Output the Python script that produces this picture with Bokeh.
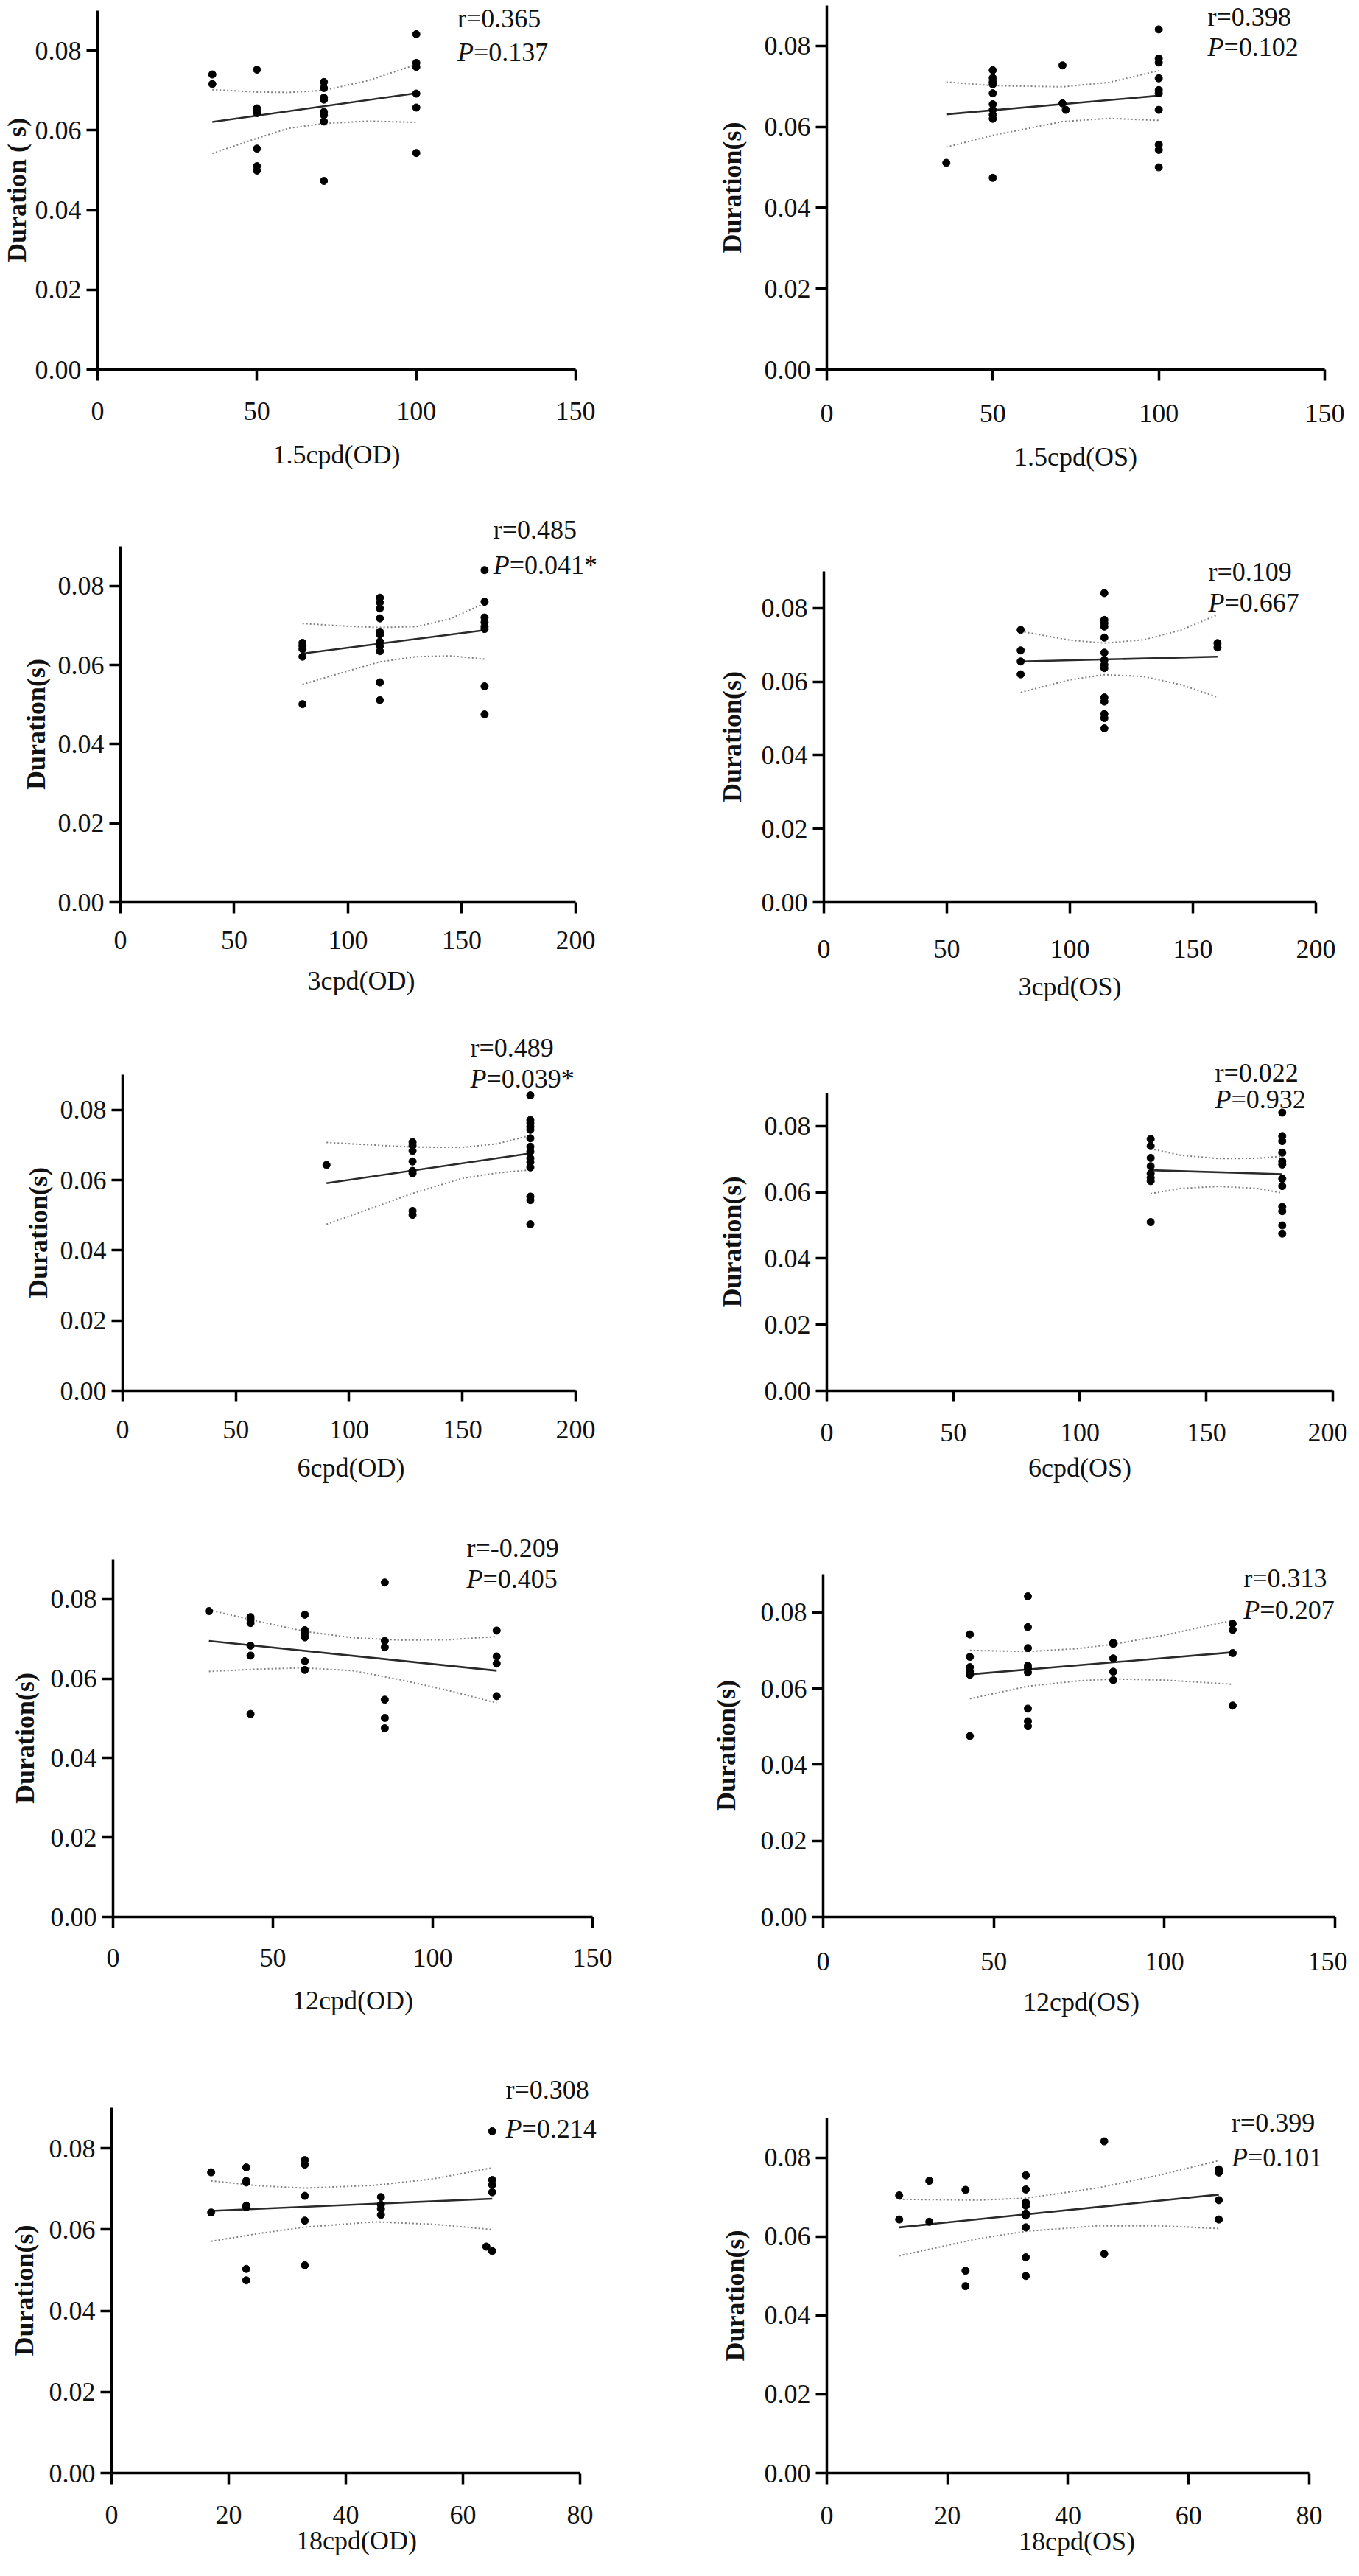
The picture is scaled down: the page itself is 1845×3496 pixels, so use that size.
import math
from bokeh.plotting import figure
from bokeh.layouts import column, row
from bokeh.models import Range1d, FixedTicker, NumeralTickFormatter, Label, Title
from bokeh.embed import file_html
from bokeh.resources import INLINE

# ---------------- data ----------------
# 1.5cpd (OD)
x_15od = [36, 36, 50, 50, 50, 50, 50, 50, 50, 71, 71, 71, 71, 71, 71, 71, 71, 100, 100, 100, 100, 100, 100]
y_15od = [0.0740, 0.0716, 0.0752, 0.0655, 0.0647, 0.0643, 0.0554, 0.0510, 0.0499,
          0.0721, 0.0706, 0.0682, 0.0677, 0.0646, 0.0638, 0.0622, 0.0473,
          0.0841, 0.0769, 0.0759, 0.0692, 0.0657, 0.0543]
fitx_15od = [36, 100]
fity_15od = [0.0621, 0.0693]
cix_15od = [36, 50, 60, 71, 85, 100]
cihi_15od = [0.0702, 0.0696, 0.0695, 0.0700, 0.0725, 0.0765]
cilo_15od = [0.0542, 0.0580, 0.0605, 0.0617, 0.0623, 0.0620]

# 1.5cpd (OS)
x_15os = [36, 50, 50, 50, 50, 50, 50, 50, 50, 50, 50, 71, 71, 72, 100, 100, 100, 100, 100, 100, 100, 100, 100, 100]
y_15os = [0.0511, 0.0740, 0.0721, 0.0711, 0.0705, 0.0683, 0.0656, 0.0642, 0.0630, 0.0620, 0.0474,
          0.0752, 0.0658, 0.0642,
          0.0841, 0.0769, 0.0759, 0.0720, 0.0691, 0.0683, 0.0642, 0.0556, 0.0543, 0.0500]
fitx_15os = [36, 100]
fity_15os = [0.0631, 0.0677]
cix_15os = [36, 50, 71, 85, 100]
cihi_15os = [0.0711, 0.0702, 0.0699, 0.0710, 0.0739]
cilo_15os = [0.0550, 0.0579, 0.0613, 0.0621, 0.0616]

# 3cpd (OD)
x_3od = [80] * 5 + [114] * 11 + [160] * 8
y_3od = [0.0656, 0.0648, 0.0640, 0.0621, 0.0501,
         0.0770, 0.0758, 0.0743, 0.0718, 0.0684, 0.0677, 0.0659, 0.0648, 0.0635, 0.0556, 0.0511,
         0.0840, 0.0760, 0.0720, 0.0708, 0.0697, 0.0691, 0.0546, 0.0475]
fitx_3od = [80, 160]
fity_3od = [0.0629, 0.0688]
cix_3od = [80, 100, 114, 130, 145, 160]
cihi_3od = [0.0705, 0.0698, 0.0695, 0.0697, 0.0717, 0.0756]
cilo_3od = [0.0551, 0.0585, 0.0608, 0.0621, 0.0623, 0.0615]

# 3cpd (OS)
x_3os = [80] * 4 + [114] * 14 + [160] * 2
y_3os = [0.0741, 0.0685, 0.0655, 0.0620,
         0.0841, 0.0768, 0.0759, 0.0750, 0.0720, 0.0679, 0.0659, 0.0646, 0.0637, 0.0557, 0.0546, 0.0512, 0.0501, 0.0473,
         0.0705, 0.0693]
fitx_3os = [80, 160]
fity_3os = [0.0655, 0.0668]
cix_3os = [80, 100, 114, 130, 145, 160]
cihi_3os = [0.0737, 0.0713, 0.0705, 0.0714, 0.0740, 0.0782]
cilo_3os = [0.0571, 0.0605, 0.0619, 0.0614, 0.0592, 0.0558]

# 6cpd (OD)
x_6od = [90] + [128] * 8 + [180] * 14
y_6od = [0.0643,
         0.0708, 0.0698, 0.0683, 0.0653, 0.0626, 0.0619, 0.0512, 0.0501,
         0.0841, 0.0771, 0.0762, 0.0752, 0.0743, 0.0719, 0.0695, 0.0681, 0.0662, 0.0651, 0.0636, 0.0553, 0.0543, 0.0474]
fitx_6od = [90, 180]
fity_6od = [0.0591, 0.0676]
cix_6od = [90, 110, 128, 150, 165, 180]
cihi_6od = [0.0707, 0.0700, 0.0694, 0.0693, 0.0703, 0.0727]
cilo_6od = [0.0474, 0.0520, 0.0562, 0.0605, 0.0620, 0.0629]

# 6cpd (OS)
x_6os = [128] * 8 + [180] * 12
y_6os = [0.0761, 0.0740, 0.0704, 0.0679, 0.0657, 0.0644, 0.0634, 0.0510,
         0.0841, 0.0770, 0.0755, 0.0720, 0.0694, 0.0684, 0.0641, 0.0619, 0.0556, 0.0543, 0.0500, 0.0475]
fitx_6os = [128, 180]
fity_6os = [0.0667, 0.0655]
cix_6os = [128, 140, 155, 170, 180]
cihi_6os = [0.0732, 0.0712, 0.0702, 0.0703, 0.0709]
cilo_6os = [0.0596, 0.0612, 0.0618, 0.0612, 0.0598]

# 12cpd (OD)
x_12od = [30] + [43] * 6 + [60] * 6 + [85] * 6 + [120] * 4
y_12od = [0.0770,
          0.0755, 0.0748, 0.0740, 0.0683, 0.0658, 0.0511,
          0.0761, 0.0722, 0.0713, 0.0704, 0.0644, 0.0622,
          0.0842, 0.0695, 0.0679, 0.0547, 0.0501, 0.0475,
          0.0721, 0.0656, 0.0638, 0.0556]
fitx_12od = [30, 120]
fity_12od = [0.0695, 0.0620]
cix_12od = [30, 45, 60, 75, 90, 105, 120]
cihi_12od = [0.0773, 0.0745, 0.0719, 0.0703, 0.0697, 0.0698, 0.0706]
cilo_12od = [0.0618, 0.0624, 0.0627, 0.0620, 0.0597, 0.0570, 0.0539]

# 12cpd (OS)
x_12os = [43] * 6 + [60] * 9 + [85] * 5 + [120] * 4
y_12os = [0.0742, 0.0683, 0.0656, 0.0645, 0.0636, 0.0475,
          0.0842, 0.0761, 0.0706, 0.0660, 0.0653, 0.0642, 0.0547, 0.0514, 0.0501,
          0.0720, 0.0717, 0.0679, 0.0644, 0.0622,
          0.0770, 0.0754, 0.0693, 0.0555]
fitx_12os = [43, 120]
fity_12os = [0.0637, 0.0695]
cix_12os = [43, 60, 75, 85, 100, 120]
cihi_12os = [0.0700, 0.0697, 0.0705, 0.0716, 0.0740, 0.0779]
cilo_12os = [0.0573, 0.0606, 0.0620, 0.0625, 0.0622, 0.0611]

# 18cpd (OD)
x_18od = [17] * 2 + [23] * 7 + [33] * 5 + [46] * 4 + [64] + [65] * 5
y_18od = [0.0741, 0.0642,
          0.0753, 0.0720, 0.0716, 0.0659, 0.0655, 0.0503, 0.0475,
          0.0771, 0.0760, 0.0683, 0.0622, 0.0512,
          0.0680, 0.0661, 0.0651, 0.0636,
          0.0558,
          0.0842, 0.0722, 0.0710, 0.0692, 0.0547]
fitx_18od = [17, 65]
fity_18od = [0.0646, 0.0676]
cix_18od = [17, 25, 33, 45, 55, 65]
cihi_18od = [0.0720, 0.0708, 0.0702, 0.0709, 0.0725, 0.0752]
cilo_18od = [0.0571, 0.0590, 0.0606, 0.0619, 0.0613, 0.0600]

# 18cpd (OS)
x_18os = [12] * 2 + [17] * 2 + [23] * 3 + [33] * 9 + [46] * 2 + [65] * 4
y_18os = [0.0704, 0.0643,
          0.0741, 0.0637,
          0.0718, 0.0513, 0.0474,
          0.0755, 0.0719, 0.0686, 0.0678, 0.0658, 0.0653, 0.0623, 0.0547, 0.0500,
          0.0841, 0.0556,
          0.0770, 0.0762, 0.0692, 0.0643]
fitx_18os = [12, 65]
fity_18os = [0.0623, 0.0706]
cix_18os = [12, 25, 33, 45, 55, 65]
cihi_18os = [0.0694, 0.0692, 0.0697, 0.0723, 0.0755, 0.0792]
cilo_18os = [0.0551, 0.0594, 0.0613, 0.0627, 0.0627, 0.0620]

x_titles = ["1.5cpd(OD)", "1.5cpd(OS)", "3cpd(OD)", "3cpd(OS)", "6cpd(OD)", "6cpd(OS)",
            "12cpd(OD)", "12cpd(OS)", "18cpd(OD)", "18cpd(OS)"]
y_titles = ["Duration ( s)"] + ["Duration(s)"] * 9
r_texts = ["r=0.365", "r=0.398", "r=0.485", "r=0.109", "r=0.489", "r=0.022",
           "r=-0.209", "r=0.313", "r=0.308", "r=0.399"]
p_texts = ["=0.137", "=0.102", "=0.041*", "=0.667", "=0.039*", "=0.932",
           "=0.405", "=0.207", "=0.214", "=0.101"]
y_ticks = [0.0, 0.02, 0.04, 0.06, 0.08]

# ---------------- layout (reference pixel geometry) ----------------
ROW_EDGES = [8, 680, 1390, 2075, 2790, 3488]
COL_EDGES = [8, 920, 1837]
FONT = "Liberation Serif"
FSN = 36
FS = "36px"
TXT_H = 40.0          # approx. text box height at 36px
YLAB_W = 0.5 * 3 * FSN + 0.25 * FSN   # width of "0.08"
TICK = 15
YSTAND = 7
TOP_SHIFT = 16        # "top"-anchored texts render this much higher than the box model
P_W = 22              # width of the italic P
W_REG = {"0": .5, "1": .5, "2": .5, "3": .5, "4": .5, "5": .5, "6": .5, "7": .5, "8": .5, "9": .5,
         ".": .25, "c": .444, "p": .5, "d": .5, "(": .333, ")": .333, "O": .722, "D": .722, "S": .556,
         "=": .564, "*": .5, "r": .333, "-": .333}
W_BOLD = {"D": .722, "u": .556, "r": .444, "a": .5, "t": .333, "i": .278, "o": .5, "n": .556,
          "(": .333, "s": .389, ")": .333, " ": .25}


def text_width(s, table):
    return sum(table.get(ch, 0.5) for ch in s) * FSN


series = [
    (x_15od, y_15od, fitx_15od, fity_15od, cix_15od, cihi_15od, cilo_15od),
    (x_15os, y_15os, fitx_15os, fity_15os, cix_15os, cihi_15os, cilo_15os),
    (x_3od, y_3od, fitx_3od, fity_3od, cix_3od, cihi_3od, cilo_3od),
    (x_3os, y_3os, fitx_3os, fity_3os, cix_3os, cihi_3os, cilo_3os),
    (x_6od, y_6od, fitx_6od, fity_6od, cix_6od, cihi_6od, cilo_6od),
    (x_6os, y_6os, fitx_6os, fity_6os, cix_6os, cihi_6os, cilo_6os),
    (x_12od, y_12od, fitx_12od, fity_12od, cix_12od, cihi_12od, cilo_12od),
    (x_12os, y_12os, fitx_12os, fity_12os, cix_12os, cihi_12os, cilo_12os),
    (x_18od, y_18od, fitx_18od, fity_18od, cix_18od, cihi_18od, cilo_18od),
    (x_18os, y_18os, fitx_18os, fity_18os, cix_18os, cihi_18os, cilo_18os),
]

# frame (left, right, top, bottom) in page pixels, x max, x step,
# text anchor (x data, y of r line, y of P line),
# tick-label centre below axis, x-title centre below axis, y-title centre left of axis
geom = [
    ((140, 789, 20, 507), 150, 50, (112.9, 0.0880, 0.0796), 50, 114, 117),
    ((1130, 1806, 16, 510), 150, 50, (114.7, 0.0872, 0.0797), 50, 114, 126),
    ((171, 789, 742, 1225), 200, 50, (163.8, 0.0941, 0.0852), 50, 110, 112),
    ((1126, 1794, 790, 1239), 200, 50, (156.3, 0.0900, 0.0814), 48, 104, 122),
    ((174, 789, 1463, 1892), 200, 50, (153.5, 0.0976, 0.0889), 47, 104, 112),
    ((1130, 1817, 1494, 1898), 200, 50, (153.4, 0.0962, 0.0880), 45, 98, 126),
    ((161, 812, 2121, 2606), 150, 50, (110.6, 0.0928, 0.0850), 50, 113, 118),
    ((1125, 1820, 2146, 2611), 150, 50, (123.2, 0.0890, 0.0807), 50, 110, 129),
    ((159, 795, 2866, 3362), 80, 20, (67.3, 0.0944, 0.0849), 50, 110, 116),
    ((1130, 1785, 2883, 3365), 80, 20, (67.1, 0.0887, 0.0801), 48, 106, 122),
]


def make_panel(i):
    xs, ys, fx, fy, cx, chi, clo = series[i]
    (L, R, T, B), xmax, xstep, (tx, ty_r, ty_p), lab_off, xt_off, yt_off = geom[i]
    r_i, c_i = divmod(i, 2)
    top, bot = ROW_EDGES[r_i], ROW_EDGES[r_i + 1]
    left, right = COL_EDGES[c_i], COL_EDGES[c_i + 1]

    # both plots of a row share the bottom border (Bokeh aligns them)
    b_pair = (geom[2 * r_i][0][3] + geom[2 * r_i + 1][0][3]) / 2.0
    border_b = int(bot - b_pair)
    Bc = bot - border_b
    border_l = L - left

    ppu_y = (B - T) / 0.09
    ppu_x = (R - L) / float(xmax)

    # frame reaches the figure top and just past the r / P texts on the right
    tx_px = L + tx * ppu_x
    text_end = tx_px + max(text_width(r_texts[i], W_REG), P_W + text_width(p_texts[i], W_REG))
    frame_r = int(min(right, max(R, math.ceil(text_end + 6))))
    y_end = (Bc - top) / ppu_y
    x_end = (frame_r - L) / ppu_x + 1e-6 * xmax

    p = figure(width=right - left, height=bot - top,
               x_range=Range1d(0, x_end), y_range=Range1d(0, y_end),
               min_border_left=border_l, min_border_right=right - frame_r,
               min_border_top=0, min_border_bottom=border_b,
               output_backend="svg", toolbar_location=None, tools="")
    p.outline_line_color = None
    p.grid.visible = False
    p.background_fill_color = "white"
    p.border_fill_color = "white"

    p.xaxis.ticker = FixedTicker(ticks=list(range(0, xmax + 1, xstep)))
    p.yaxis.ticker = FixedTicker(ticks=y_ticks)
    p.yaxis.formatter = NumeralTickFormatter(format="0.00")
    p.xaxis.bounds = (0, xmax)
    p.yaxis.bounds = (0, 0.09)
    for ax in (p.xaxis, p.yaxis):
        ax.axis_line_width = 3.5
        ax.axis_line_color = "black"
        ax.major_tick_line_width = 3.5
        ax.major_tick_line_color = "black"
        ax.major_tick_out = TICK
        ax.major_tick_in = 0
        ax.minor_tick_out = 0
        ax.minor_tick_in = 0
        ax.major_label_text_font = FONT
        ax.major_label_text_font_size = FS
        ax.major_label_text_color = "#111111"
        ax.axis_label_text_font = FONT
        ax.axis_label_text_font_size = FS
        ax.axis_label_text_color = "#111111"
    p.yaxis.major_label_standoff = YSTAND

    # x tick labels
    lab_rel = B + lab_off - Bc
    ls = int(max(0, round(lab_rel - TICK - 20 + TOP_SHIFT)))
    p.xaxis.major_label_standoff = ls

    # x title as the axis label
    xt_rel = B + xt_off - Bc
    st_x = xt_rel - (TICK + ls + TXT_H + 20 - TOP_SHIFT)
    st_x = max(0, min(st_x, border_b - 3 - (TICK + ls + 2 * TXT_H)))
    p.xaxis.axis_label = x_titles[i]
    p.xaxis.axis_label_text_font_style = "normal"
    p.xaxis.axis_label_standoff = int(st_x)

    # y title (Title in the left panel, centred on the axis line)
    ext_y = TICK + YSTAND + YLAB_W
    st_y = 2.0 * (yt_off - ext_y - 21.0)
    st_y = max(0.0, min(st_y, border_l - 4 - ext_y - (TXT_H + 2)))
    w_y = text_width(y_titles[i], W_BOLD)
    centre_y = (T + B) / 2.0 + (Bc - B)
    p.add_layout(Title(text=y_titles[i], align="left", vertical_align="middle",
                       offset=Bc - centre_y - w_y / 2.0, standoff=int(st_y),
                       text_font=FONT, text_font_size=FS, text_font_style="bold",
                       text_color="#111111"), "left")

    p.line(cx, chi, line_color="#808080", line_width=2, line_dash="2 3")
    p.line(cx, clo, line_color="#808080", line_width=2, line_dash="2 3")
    p.line(fx, fy, line_color="#2a2a2a", line_width=2.6)
    p.scatter(xs, ys, size=10, fill_color="black", line_color="black")

    p.add_layout(Label(x=tx, y=ty_r, text=r_texts[i], text_font=FONT, text_font_size=FS,
                       text_color="#111111", text_baseline="middle", text_align="left"))
    p.add_layout(Label(x=tx, y=ty_p, text="P", text_font=FONT, text_font_size=FS,
                       text_font_style="italic", text_color="#111111",
                       text_baseline="middle", text_align="left"))
    p.add_layout(Label(x=tx, y=ty_p, x_offset=P_W, text=p_texts[i], text_font=FONT,
                       text_font_size=FS, text_color="#111111",
                       text_baseline="middle", text_align="left"))
    return p


panels = [make_panel(i) for i in range(10)]
layout = column(*[row(panels[2 * k], panels[2 * k + 1], spacing=0) for k in range(5)], spacing=0)

open("out.html", "w").write(file_html(layout, INLINE))
